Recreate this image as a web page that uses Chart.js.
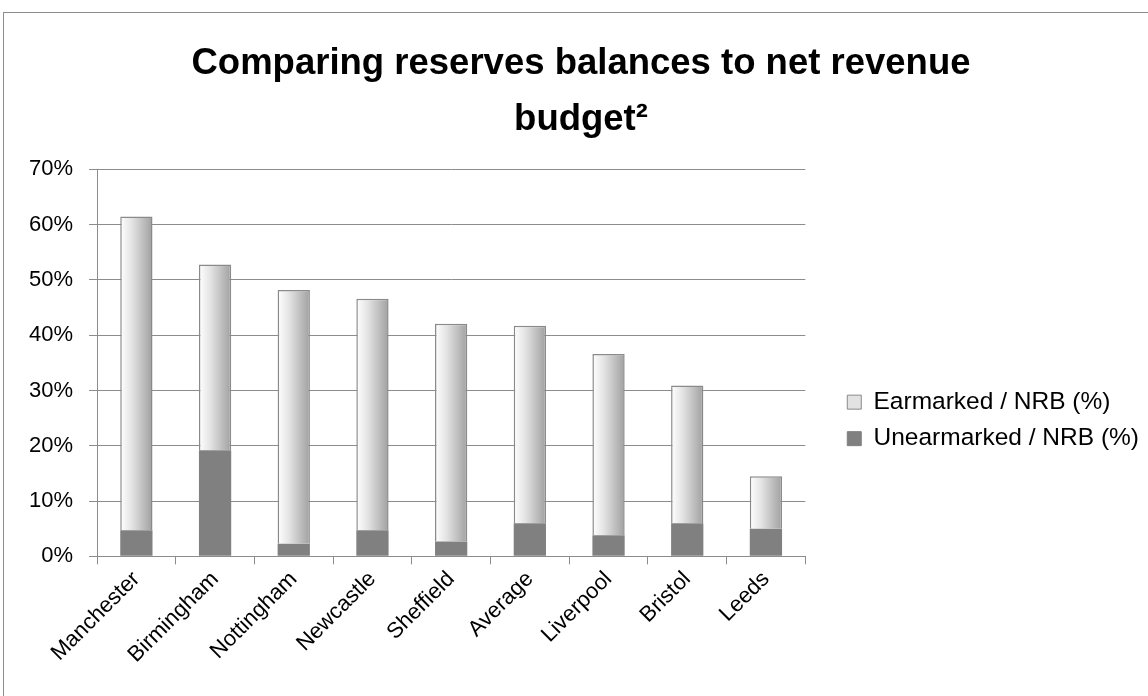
<!DOCTYPE html>
<html>
<head>
<meta charset="utf-8">
<script src="https://cdn.jsdelivr.net/npm/chart.js@4.4.1/dist/chart.umd.min.js"></script>
<style>
    html, body { margin: 0; padding: 0; background: #fff; overflow: hidden; }
    #frame {
        position: absolute;
        left: 3px;
        top: 12px;
        width: 1160px;
        height: 700px;
        border: 1px solid #8c8c8c;
        box-sizing: border-box;
    }
    #chartWrap {
        position: absolute;
        left: 1px;
        top: 1px;
        width: 1144px;
        height: 683px;
    }
</style>
</head>
<body>
<div id="frame">
    <div id="chartWrap"><canvas id="reservesChart"></canvas></div>
</div>
<script>
// ===========================
// Data
// ===========================

const categories = ['Manchester', 'Birmingham', 'Nottingham', 'Newcastle', 'Sheffield', 'Average', 'Liverpool', 'Bristol', 'Leeds'];
const unearmarked = [4.7, 19.2, 2.3, 4.7, 2.7, 6.0, 3.8, 6.0, 5.0];
const earmarked = [56.8, 33.6, 45.9, 41.9, 39.4, 35.7, 32.8, 24.9, 9.5];
const yTicks = [0, 10, 20, 30, 40, 50, 60, 70];

const FONT = "'Liberation Sans', Arial, sans-serif";
const BAR_PCT = 0.41;

// gradient per bar, white on the left to grey on the right
function earmarkedFill(context) {
    const chart = context.chart;
    const xScale = chart.scales.x;
    if (!xScale || !chart.chartArea) return '#d0d0d0';
    const slot = (chart.chartArea.right - chart.chartArea.left) / categories.length;
    const half = slot * BAR_PCT / 2;
    const cx = xScale.getPixelForValue(context.dataIndex);
    const y0 = chart.chartArea.top;
    const g = chart.ctx.createLinearGradient(cx - half, y0, cx + half, y0);
    g.addColorStop(0, '#ffffff');
    g.addColorStop(0.35, '#e4e4e4');
    g.addColorStop(1, '#a0a0a0');
    return g;
}

// ===========================
// Chart
// ===========================

const ctx = document.getElementById('reservesChart');

new Chart(ctx, {
    type: 'bar',
    data: {
        labels: categories,
        datasets: [
            {
                label: 'Unearmarked / NRB (%)',
                data: unearmarked,
                backgroundColor: '#808080',
                borderWidth: 0,
                stack: 's'
            },
            {
                label: 'Earmarked / NRB (%)',
                data: earmarked,
                backgroundColor: earmarkedFill,
                borderColor: '#8a8a8a',
                borderWidth: 1.5,
                borderSkipped: 'bottom',
                stack: 's'
            }
        ]
    },
    options: {
        responsive: true,
        maintainAspectRatio: false,
        animation: false,
        datasets: {
            bar: { categoryPercentage: 1, barPercentage: BAR_PCT }
        },
        layout: { padding: { left: 8, right: 0, top: 0, bottom: 27 } },
        plugins: {
            title: {
                display: true,
                text: ['Comparing reserves balances to net revenue', 'budget\u00B2'],
                color: '#000',
                font: { family: FONT, size: 36.5, weight: 'bold', lineHeight: 1.54 },
                padding: { top: 22, bottom: 21 }
            },
            legend: {
                position: 'right',
                maxWidth: 360,
                title: { display: true, text: ' ', padding: { top: 152, bottom: 0 }, font: { size: 4 } },
                labels: {
                    font: { family: FONT, size: 24.5 },
                    boxWidth: 14,
                    boxHeight: 14,
                    padding: 12,
                    generateLabels: function() {
                        return [
                            { text: 'Earmarked / NRB (%)', fillStyle: '#e2e2e2', strokeStyle: '#8a8a8a', lineWidth: 1, fontColor: '#000', datasetIndex: 1, hidden: false },
                            { text: 'Unearmarked / NRB (%)', fillStyle: '#808080', strokeStyle: '#808080', lineWidth: 1, fontColor: '#000', datasetIndex: 0, hidden: false }
                        ];
                    }
                }
            },
            tooltip: { enabled: false }
        },
        scales: {
            x: {
                stacked: true,
                grid: {
                    display: true,
                    offset: true,
                    drawOnChartArea: false,
                    drawTicks: true,
                    tickLength: 8,
                    color: '#8c8c8c'
                },
                border: { color: '#8c8c8c', width: 1 },
                ticks: {
                    color: '#000',
                    font: { family: FONT, size: 22 },
                    minRotation: 45,
                    maxRotation: 45,
                    padding: 2,
                    autoSkip: false
                }
            },
            y: {
                stacked: true,
                min: 0,
                max: 70,
                afterBuildTicks: function(axis) {
                    axis.ticks = yTicks.map(v => ({ value: v }));
                },
                grid: {
                    color: '#8c8c8c',
                    lineWidth: 1,
                    drawTicks: true,
                    tickLength: 8
                },
                border: { color: '#8c8c8c', width: 1 },
                ticks: {
                    color: '#000',
                    font: { family: FONT, size: 22 },
                    padding: 16,
                    callback: v => v + '%'
                }
            },
            // empty spacer between plot and legend
            gap: {
                type: 'linear',
                position: 'right',
                display: true,
                grid: { display: false },
                border: { display: false },
                ticks: { display: false },
                afterFit: function(scale) { scale.width = 30; }
            }
        }
    }
});
</script>
</body>
</html>
